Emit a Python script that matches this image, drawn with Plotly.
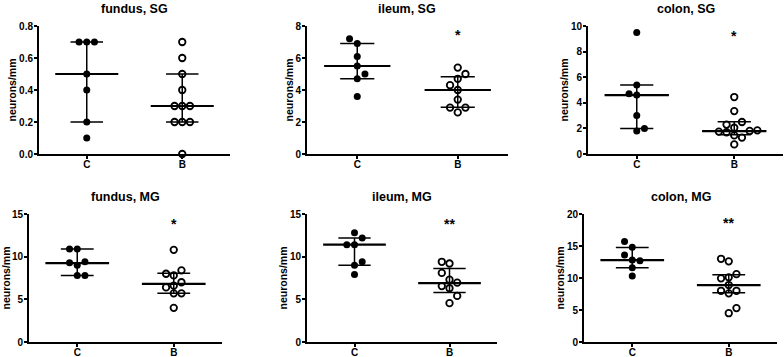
import numpy as np
import plotly.graph_objects as go

# ---------------- data ----------------
panel_titles = ["fundus, SG", "ileum, SG", "colon, SG", "fundus, MG", "ileum, MG", "colon, MG"]
group_labels = ["C", "B"]

fundus_sg_c = [0.7, 0.7, 0.7, 0.5, 0.4, 0.2, 0.1]
fundus_sg_b = [0.7, 0.6, 0.5, 0.4, 0.3, 0.3, 0.3, 0.2, 0.2, 0.2, 0.0]
ileum_sg_c = [7.2, 6.9, 6.1, 5.5, 5.0, 4.7, 3.6]
ileum_sg_b = [5.4, 5.0, 4.7, 4.3, 4.0, 3.4, 2.9, 2.9, 2.6]
colon_sg_c = [9.5, 5.4, 4.7, 4.6, 3.0, 2.0, 1.8]
colon_sg_b = [4.45, 3.35, 2.5, 2.3, 2.05, 1.85, 1.8, 1.75, 1.7, 1.45, 1.28, 0.75]
fundus_mg_c = [10.9, 10.9, 9.4, 9.3, 9.0, 7.8, 7.8]
fundus_mg_b = [10.8, 8.4, 8.0, 7.8, 7.0, 6.6, 6.4, 5.7, 5.7, 4.0]
ileum_mg_c = [12.8, 12.2, 11.4, 11.4, 9.4, 9.0, 7.9]
ileum_mg_b = [9.4, 9.2, 8.1, 7.3, 6.95, 6.55, 6.3, 5.4, 4.55]
colon_mg_c = [15.7, 14.8, 13.6, 12.8, 12.7, 11.6, 10.3]
colon_mg_b = [13.0, 12.6, 10.6, 10.1, 9.95, 8.9, 8.0, 8.0, 7.6, 5.3, 4.5]

# medians and interquartile range
median_c = [0.5, 5.5, 4.6, 9.25, 11.4, 12.8]
median_b = [0.3, 4.0, 1.78, 6.8, 6.9, 8.9]
q1_c = [0.2, 4.7, 2.0, 7.8, 9.0, 11.6]
q3_c = [0.7, 6.9, 5.4, 10.9, 12.2, 14.75]
q1_b = [0.2, 2.92, 1.5, 5.7, 5.8, 7.7]
q3_b = [0.5, 4.83, 2.52, 8.05, 8.6, 10.5]

# significance marks for group B
sig_marks = ["", "*", "*", "*", "**", "**"]
sig_y = [None, 7.55, 9.4, 14.1, 14.1, 18.85]

# y axes
y_max = [0.8, 8, 10, 15, 15, 20]
y_dtick = [0.2, 2, 2, 5, 5, 5]
y_fmt = [".1f", "d", "d", "d", "d", "d"]

c_values = [fundus_sg_c, ileum_sg_c, colon_sg_c, fundus_mg_c, ileum_mg_c, colon_mg_c]
b_values = [fundus_sg_b, ileum_sg_b, colon_sg_b, fundus_mg_b, ileum_mg_b, colon_mg_b]

# ---------------- layout geometry (pixels) ----------------
W, H = 784, 357
x_px = [(39, 230), (307, 508), (588, 783), (29, 222), (307, 497), (584, 777)]
y_px = [(26, 154)] * 3 + [(214, 342)] * 3

FONT = "Liberation Sans, Arial, sans-serif"


def swarm_offsets(values, ppy, ppx, diam=7.6, step=7.7):
    """Simple beeswarm: returns x offsets (in axis units) so markers don't overlap."""
    n = len(values)
    order = sorted(range(n), key=lambda i: values[i])
    placed = []
    offs = [0.0] * n
    side_count = {-1: 0, 1: 0}
    tie_next = 1
    for i in order:
        y = values[i] * ppy
        k = 0
        while True:
            cands = [0] if k == 0 else [-k, k]
            ok = [c for c in cands
                  if all(np.hypot(c * step - px, y - py) >= diam for px, py in placed)]
            if ok:
                if len(ok) == 1:
                    c = ok[0]
                else:
                    if side_count[-1] < side_count[1]:
                        c = -k
                    elif side_count[1] < side_count[-1]:
                        c = k
                    else:
                        c = tie_next * k
                        tie_next = -tie_next
                break
            k += 1
        if c != 0:
            side_count[1 if c > 0 else -1] += 1
        placed.append((c * step, y))
        offs[i] = c * step / ppx
    return offs


fig = go.Figure()
annotations = []
layout_axes = {}

MED_HALF = 0.33
WHISK_HALF = 0.17

for p in range(6):
    suffix = "" if p == 0 else str(p + 1)
    xa, ya = "x" + suffix, "y" + suffix
    x0, x1 = x_px[p]
    yt, yb = y_px[p]
    ppx = (x1 - x0) / 2.0
    ppy = (yb - yt) / y_max[p]

    # markers
    for g, (vals, filled) in enumerate([(c_values[p], True), (b_values[p], False)]):
        offs = swarm_offsets(vals, ppy, ppx)
        xs = [g + o for o in offs]
        fig.add_trace(go.Scatter(
            x=xs, y=vals, mode="markers", xaxis=xa, yaxis=ya, showlegend=False,
            cliponaxis=False, hoverinfo="y",
            marker=dict(symbol="circle", size=7 if filled else 6.5,
                        color="black" if filled else "white",
                        line=dict(color="black", width=0 if filled else 1.8)),
        ))

    # median + IQR lines
    for g, (med, q1, q3) in enumerate([(median_c[p], q1_c[p], q3_c[p]),
                                       (median_b[p], q1_b[p], q3_b[p])]):
        fig.add_trace(go.Scatter(
            x=[g - WHISK_HALF, g + WHISK_HALF, None, g - WHISK_HALF, g + WHISK_HALF, None, g, g],
            y=[q1, q1, None, q3, q3, None, q1, q3],
            mode="lines", xaxis=xa, yaxis=ya, showlegend=False, hoverinfo="skip",
            line=dict(color="black", width=1.5), cliponaxis=False,
        ))
        fig.add_trace(go.Scatter(
            x=[g - MED_HALF, g + MED_HALF], y=[med, med],
            mode="lines", xaxis=xa, yaxis=ya, showlegend=False, hoverinfo="skip",
            line=dict(color="black", width=2.2), cliponaxis=False,
        ))

    xkey = "xaxis" + suffix
    ykey = "yaxis" + suffix
    layout_axes[xkey] = dict(
        domain=[x0 / W, x1 / W], range=[-0.5, 1.5], anchor=ya, automargin=False,
        tickvals=[0, 1], ticktext=group_labels,
        showline=True, linecolor="black", linewidth=2, mirror=False,
        ticks="outside", ticklen=3, tickwidth=1.5, tickcolor="black",
        ticklabelstandoff=-3,
        showgrid=False, zeroline=False, fixedrange=True,
        tickfont=dict(family=FONT, size=10, color="black", weight="bold"),
    )
    layout_axes[ykey] = dict(
        domain=[1 - yb / H, 1 - yt / H], range=[0, y_max[p]], anchor=xa, automargin=False,
        dtick=y_dtick[p], tick0=0, tickformat=y_fmt[p],
        showline=True, linecolor="black", linewidth=2,
        ticks="outside", ticklen=3, tickwidth=1.5, tickcolor="black",
        ticklabelstandoff=-1,
        showgrid=False, zeroline=False, fixedrange=True,
        tickfont=dict(family=FONT, size=10, color="black", weight="bold"),
        title=dict(text="neurons/mm", standoff=0,
                   font=dict(family=FONT, size=10.5, color="black", weight="bold")),
    )

    # panel title
    annotations.append(dict(
        x=(x0 + x1) / 2 / W, y=1 - (yt - 17.5) / H, xref="paper", yref="paper",
        text="<b>" + panel_titles[p] + "</b>", showarrow=False,
        xanchor="center", yanchor="middle",
        font=dict(family=FONT, size=12.5, color="black"),
    ))
    # significance marks
    if sig_marks[p]:
        annotations.append(dict(
            x=1, y=sig_y[p], xref=xa, yref=ya, text="<b>" + sig_marks[p] + "</b>",
            showarrow=False, xanchor="center", yanchor="middle", yshift=-2,
            font=dict(family=FONT, size=14, color="black"),
        ))

fig.update_layout(
    template="none",
    width=W, height=H, margin=dict(l=0, r=0, t=0, b=0, autoexpand=False),
    paper_bgcolor="white", plot_bgcolor="white",
    annotations=annotations, showlegend=False,
    **layout_axes,
)

fig.write_html("out.html", config={"displayModeBar": False},
               post_script="document.body.style.margin='0px';")
